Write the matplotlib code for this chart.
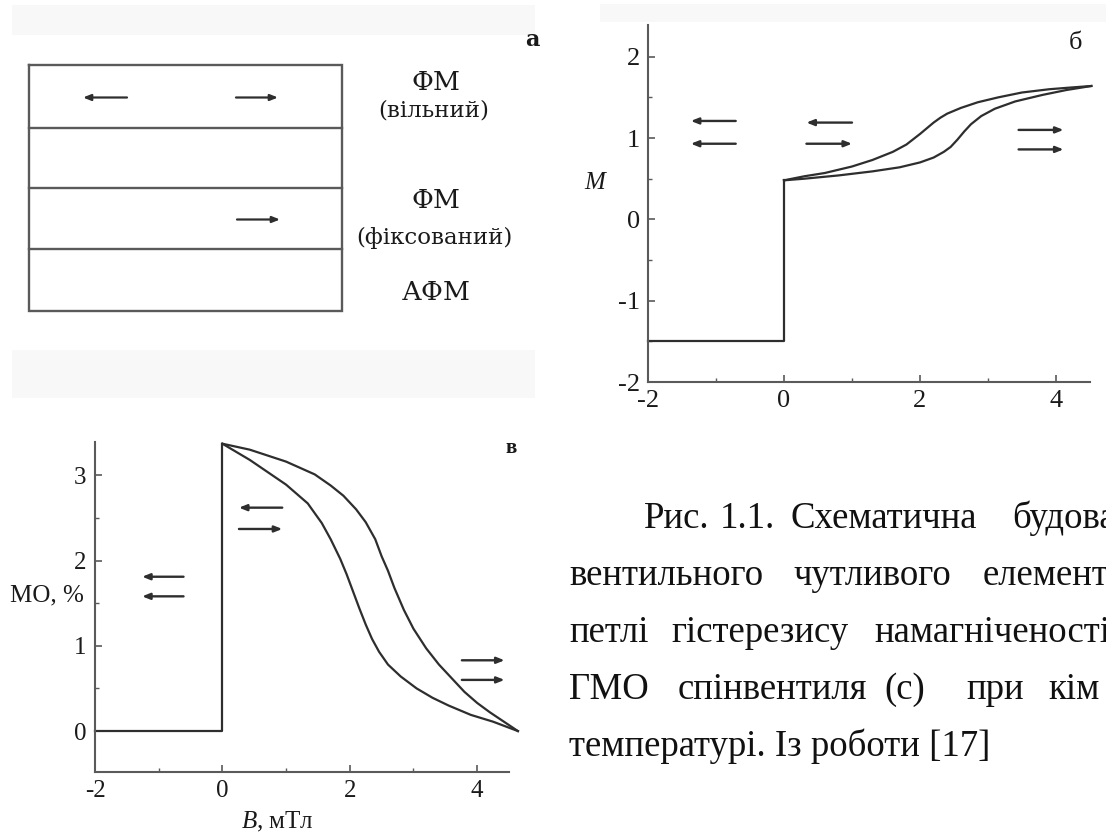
import matplotlib.pyplot as plt
from matplotlib.patches import Rectangle
from matplotlib.ticker import MultipleLocator

plt.rcParams['font.family'] = ['Liberation Serif', 'DejaVu Serif']
plt.rcParams['mathtext.fontset'] = 'custom'
plt.rcParams['mathtext.rm'] = 'Liberation Serif'
plt.rcParams['mathtext.it'] = 'Liberation Serif:italic'

INK = '#2e2e2e'
AXIS = '#5a5a5a'

# --- panel a: layer stack (top to bottom), boundaries in pixel rows
layer_edges = [65, 128, 188, 249, 311]
layer_titles = ['ФМ', '', 'ФМ', 'АФМ']
layer_notes = ['(вільний)', '', '(фіксований)', '']
# spin arrows in the stack: (tail x, head x, layer index)
stack_arrows = [(127, 83, 0), (236, 278, 0), (237, 280, 2)]

# --- panel б: magnetisation loop
b_flat_x = [-2.0, 0.0, 0.0]
b_flat_y = [-1.5, -1.5, 0.48]
b_upper_x = [0.0, 0.3, 0.6, 1.0, 1.3, 1.6, 1.8, 2.0, 2.1, 2.2, 2.3, 2.4, 2.6,
             2.85, 3.15, 3.5, 3.9, 4.2, 4.52]
b_upper_y = [0.48, 0.53, 0.57, 0.65, 0.73, 0.83, 0.92, 1.05, 1.12, 1.19, 1.25,
             1.30, 1.37, 1.44, 1.50, 1.56, 1.60, 1.62, 1.64]
b_lower_x = [0.0, 0.3, 0.8, 1.3, 1.7, 2.0, 2.2, 2.35, 2.45, 2.55, 2.65, 2.75,
             2.9, 3.1, 3.4, 3.8, 4.15, 4.52]
b_lower_y = [0.48, 0.50, 0.54, 0.59, 0.64, 0.70, 0.76, 0.83, 0.89, 0.98, 1.08,
             1.17, 1.27, 1.36, 1.45, 1.53, 1.59, 1.64]
# (tail, head, level)
b_arrows = [(-0.71, -1.37, 1.21), (-0.71, -1.37, 0.93),
            (1.00, 0.33, 1.19), (0.33, 1.00, 0.93),
            (3.45, 4.11, 1.10), (3.45, 4.11, 0.86)]

# --- panel в: magnetoresistance loop
c_flat_x = [-2.0, 0.0, 0.0]
c_flat_y = [0.0, 0.0, 3.37]
c_outer_x = [0.0, 0.43, 1.0, 1.45, 1.7, 1.9, 2.1, 2.25, 2.4, 2.5, 2.6, 2.7,
             2.85, 3.0, 3.2, 3.4, 3.6, 3.8, 4.0, 4.2, 4.4, 4.64]
c_outer_y = [3.37, 3.30, 3.16, 3.01, 2.88, 2.76, 2.60, 2.45, 2.25, 2.05, 1.88,
             1.68, 1.42, 1.20, 0.97, 0.78, 0.62, 0.46, 0.33, 0.22, 0.12, 0.0]
c_inner_x = [0.0, 0.43, 1.0, 1.34, 1.56, 1.7, 1.85, 1.95, 2.05, 2.15, 2.25,
             2.35, 2.46, 2.6, 2.8, 3.05, 3.3, 3.55, 3.9, 4.25, 4.64]
c_inner_y = [3.37, 3.18, 2.89, 2.67, 2.44, 2.25, 2.02, 1.84, 1.64, 1.44, 1.25,
             1.08, 0.93, 0.78, 0.64, 0.50, 0.39, 0.30, 0.19, 0.11, 0.0]
c_arrows = [(-0.61, -1.26, 1.81), (-0.61, -1.26, 1.58),
            (0.94, 0.26, 2.62), (0.26, 0.94, 2.37),
            (3.76, 4.43, 0.83), (3.76, 4.43, 0.60)]

# caption words with their left edges, one list per line
caption_lines = [
    [('Рис.', 644), ('1.1.', 720), ('Схематична', 791), ('будова', 1012)],
    [('вентильного', 569), ('чутливого', 793), ('елемент', 983)],
    [('петлі', 569), ('гістерезису', 671), ('намагніченості', 874)],
    [('ГМО', 569), ('спінвентиля', 678), ('(с)', 884), ('при', 966), ('кім', 1048)],
    [('температурі. Із роботи [17]', 569)],
]
caption_baselines = [528, 585, 642, 699, 756]

W, H = 1106, 836
fig = plt.figure(figsize=(W / 100, H / 100), dpi=100)

# overlay in pixel units for the schematic and the caption
ov = fig.add_axes([0, 0, 1, 1])
ov.set_xlim(0, W)
ov.set_ylim(H, 0)
ov.axis('off')

for (x, y, w, h) in [(12, 5, 523, 30), (12, 350, 523, 48), (600, 4, 506, 18)]:
    ov.add_patch(Rectangle((x, y), w, h, color='#f8f8f8', lw=0, zorder=0))

box_left, box_right = 29, 342
ov.plot([box_left, box_right, box_right, box_left, box_left],
        [layer_edges[0], layer_edges[0], layer_edges[-1], layer_edges[-1], layer_edges[0]],
        color=AXIS, lw=1.7, solid_joinstyle='miter')
for y in layer_edges[1:-1]:
    ov.plot([box_left, box_right], [y, y], color=AXIS, lw=1.7)

title_rows = [82, None, 200, 292]
note_rows = [110, None, 238, None]
for title, note, ty, ny in zip(layer_titles, layer_notes, title_rows, note_rows):
    if title:
        ov.text(436, ty, title, ha='center', va='center', fontsize=19,
                family='DejaVu Serif', color='#1a1a1a')
    if note:
        ov.text(434, ny, note, ha='center', va='center', fontsize=16.5,
                family='DejaVu Serif', color='#1a1a1a')

for tail, head, idx in stack_arrows:
    y = (layer_edges[idx] + layer_edges[idx + 1]) / 2 + 1
    ov.annotate('', xy=(head, y), xytext=(tail, y),
                arrowprops=dict(arrowstyle='-|>,head_length=0.45,head_width=0.18',
                                lw=1.6, color=INK, shrinkA=0, shrinkB=0))

ov.text(532, 40, 'а', ha='center', va='center', fontsize=16, family='DejaVu Serif',
        weight='bold', color='#1a1a1a')

for words, base in zip(caption_lines, caption_baselines):
    for word, x in words:
        ov.text(x, base, word, ha='left', va='baseline', fontsize=26.5,
                family='Liberation Serif', color='#111111')


def style_axes(ax, xlim, ylim, ymajor, yminor, size):
    ax.set_xlim(*xlim)
    ax.set_ylim(*ylim)
    ax.patch.set_alpha(0)
    for side in ('top', 'right'):
        ax.spines[side].set_visible(False)
    for side in ('left', 'bottom'):
        ax.spines[side].set_color(AXIS)
        ax.spines[side].set_linewidth(1.5)
    ax.xaxis.set_major_locator(MultipleLocator(2))
    ax.xaxis.set_minor_locator(MultipleLocator(1))
    ax.yaxis.set_major_locator(MultipleLocator(ymajor))
    ax.yaxis.set_minor_locator(MultipleLocator(yminor))
    ax.tick_params(which='major', direction='in', length=5, width=1.2, color=AXIS,
                   labelsize=size, labelcolor='#1a1a1a', pad=6)
    ax.tick_params(which='minor', direction='in', length=3, width=1.0, color=AXIS)


def draw_arrows(ax, arrows):
    for tail, head, y in arrows:
        ax.annotate('', xy=(head, y), xytext=(tail, y),
                    arrowprops=dict(arrowstyle='-|>,head_length=0.45,head_width=0.18',
                                    lw=1.7, color=INK, shrinkA=0, shrinkB=0))


# panel б
axb = fig.add_axes([648 / W, 1 - 382 / H, 442 / W, 357 / H])
style_axes(axb, (-2, 4.5), (-2, 2.39), 1, 0.5, 19)
axb.set_yticks([-2, -1, 0, 1, 2], ['-2', '-1', '0', '1', '2'])
axb.set_xticks([-2, 0, 2, 4], ['-2', '0', '2', '4'])
for xs, ys in [(b_flat_x, b_flat_y), (b_upper_x, b_upper_y), (b_lower_x, b_lower_y)]:
    axb.plot(xs, ys, color=INK, lw=1.6, clip_on=False, solid_joinstyle='round')
draw_arrows(axb, b_arrows)
axb.text(595, 183, 'M', transform=ov.transData, ha='center', va='center',
         fontsize=18, style='italic', color='#1a1a1a')
axb.text(1076, 43, 'б', transform=ov.transData, ha='center', va='center',
         fontsize=19, color='#1a1a1a')

# panel в
axc = fig.add_axes([95 / W, 1 - 772 / H, 414 / W, 330 / H])
style_axes(axc, (-2, 4.5), (-0.48, 3.39), 1, 0.5, 18)
axc.set_yticks([0, 1, 2, 3], ['0', '1', '2', '3'])
axc.set_xticks([-2, 0, 2, 4], ['-2', '0', '2', '4'])
for xs, ys in [(c_flat_x, c_flat_y), (c_outer_x, c_outer_y), (c_inner_x, c_inner_y)]:
    axc.plot(xs, ys, color=INK, lw=1.6, clip_on=False, solid_joinstyle='round')
draw_arrows(axc, c_arrows)
axc.text(47, 595, 'МО, %', transform=ov.transData, ha='center', va='center',
         fontsize=18, color='#1a1a1a')
axc.text(277, 822, '$B$, мТл', transform=ov.transData, ha='center', va='center',
         fontsize=18, color='#1a1a1a')
axc.text(511, 448, 'в', transform=ov.transData, ha='center', va='center',
         fontsize=15, weight='bold', color='#1a1a1a')

fig.savefig('out.png', dpi=100, facecolor='white')
